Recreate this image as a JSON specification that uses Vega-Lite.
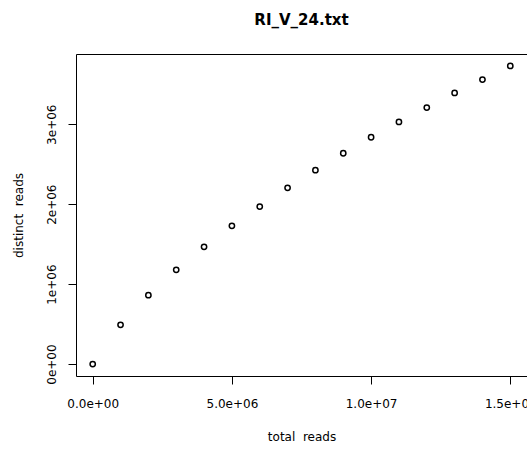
{
  "$schema": "https://vega.github.io/schema/vega-lite/v6.json",
  "autosize": "none",
  "width": 451,
  "height": 322,
  "padding": {"left": 76, "top": 54, "right": 0, "bottom": 75},
  "background": "white",
  "title": {"text": "RI_V_24.txt", "font": "DejaVu Sans", "fontSize": 15, "fontWeight": "bold", "color": "black", "anchor": "middle", "frame": "group", "baseline": "alphabetic", "offset": 14},
  "config": {
    "view": {"stroke": "black", "strokeWidth": 1},
    "axis": {"labelFont": "DejaVu Sans", "titleFont": "DejaVu Sans", "labelFontSize": 12, "titleFontSize": 12, "titleFontWeight": "normal", "labelColor": "black", "titleColor": "black", "tickColor": "black", "tickSize": 8, "domain": false, "grid": false}
  },
  "data": {"values": [
    {"total": 0, "distinct": 0},
    {"total": 1000000, "distinct": 491000},
    {"total": 2000000, "distinct": 862000},
    {"total": 3000000, "distinct": 1179000},
    {"total": 4000000, "distinct": 1466000},
    {"total": 5000000, "distinct": 1729000},
    {"total": 6000000, "distinct": 1970000},
    {"total": 7000000, "distinct": 2204000},
    {"total": 8000000, "distinct": 2425000},
    {"total": 9000000, "distinct": 2637000},
    {"total": 10000000, "distinct": 2837000},
    {"total": 11000000, "distinct": 3029000},
    {"total": 12000000, "distinct": 3208000},
    {"total": 13000000, "distinct": 3391000},
    {"total": 14000000, "distinct": 3558000},
    {"total": 15000000, "distinct": 3729000}
  ]},
  "mark": {"type": "point", "shape": "circle", "filled": false, "color": "black", "size": 28, "strokeWidth": 1.5, "opacity": 1},
  "encoding": {
    "x": {"field": "total", "type": "quantitative", "scale": {"domain": [-600000, 15600000], "nice": false, "zero": false},
      "axis": {"title": "total\u00a0 reads", "values": [0, 5000000, 10000000, 15000000], "labelExpr": "datum.value == 0 ? '0.0e+00' : datum.value == 5000000 ? '5.0e+06' : datum.value == 10000000 ? '1.0e+07' : '1.5e+07'", "labelPadding": 14, "labelBaseline": "top", "titleY": 60, "titleBaseline": "middle", "labelFlush": false, "labelOverlap": false}},
    "y": {"field": "distinct", "type": "quantitative", "scale": {"domain": [-149000, 3878000], "nice": false, "zero": false},
      "axis": {"title": "distinct\u00a0 reads", "values": [0, 1000000, 2000000, 3000000], "labelExpr": "datum.value == 0 ? '0e+00' : datum.value == 1000000 ? '1e+06' : datum.value == 2000000 ? '2e+06' : '3e+06'", "labelAngle": 270, "labelAlign": "center", "labelBaseline": "middle", "labelPadding": 17, "titleX": -58, "titleBaseline": "middle", "titleAngle": 270, "labelFlush": false, "labelOverlap": false}}
  }
}
